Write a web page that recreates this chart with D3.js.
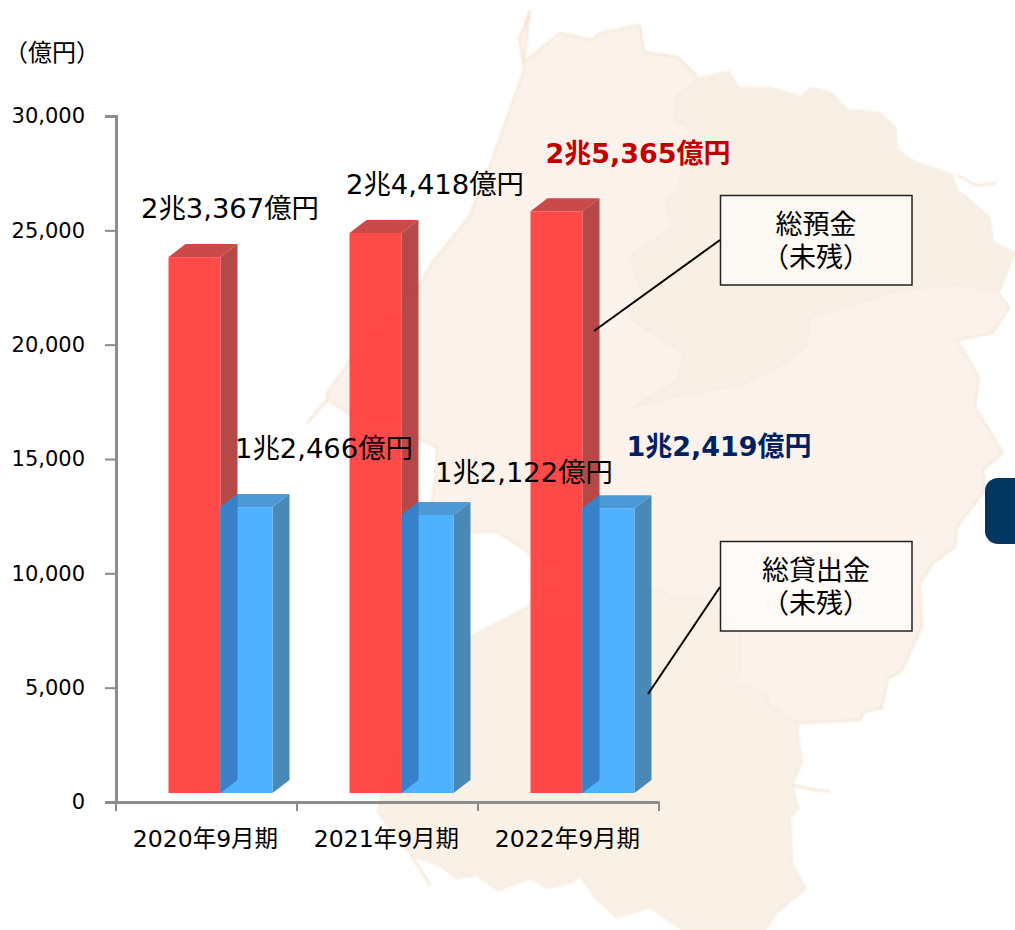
<!DOCTYPE html>
<html><head><meta charset="utf-8">
<script src="https://cdn.jsdelivr.net/npm/d3@7"></script>
<style>html,body{margin:0;padding:0;background:#fff}svg{display:block}
text{font-family:"DejaVu Sans","Noto Sans CJK JP",sans-serif;fill:#000}</style></head><body>
<svg id="c" width="1015" height="930"><defs><filter id="soft" x="-5%" y="-5%" width="110%" height="110%"><feGaussianBlur stdDeviation="0.8"/></filter></defs></svg>
<script>
const periods=["2020年9月期","2021年9月期","2022年9月期"];
const deposits=[23367,24418,25365];
const loans=[12466,12122,12419];
const depositLabels=["2兆3,367億円","2兆4,418億円","2兆5,365億円"];
const loanLabels=["1兆2,466億円","1兆2,122億円","1兆2,419億円"];
const yTicks=[0,5000,10000,15000,20000,25000,30000];
// decorative background map
const mapOutline=[[530,10],[523,30],[519,37],[523,63],[560,33],[592,40],[601,33],[640,25],[644,52],[678,57],[699,78],[729,72],[738,88],[770,88],[802,97],[811,88],[831,93],[847,110],[879,113],[895,127],[897,150],[916,163],[952,175],[957,190],[989,217],[993,243],[1015,253],[998,293],[1009,307],[993,333],[957,340],[979,377],[975,407],[1003,453],[983,470],[985,490],[957,527],[955,547],[933,563],[920,583],[922,627],[901,672],[888,678],[882,708],[864,712],[860,720],[798,723],[798,738],[802,762],[792,785],[798,808],[790,818],[792,865],[806,888],[777,912],[765,930],[683,930],[650,907],[617,917],[596,898],[580,875],[572,882],[547,888],[530,878],[498,890],[477,875],[456,878],[440,865],[411,855],[378,812],[386,772],[399,738],[421,718],[411,698],[419,645],[432,630],[471,637],[528,607],[549,575],[528,552],[498,532],[473,532],[432,502],[436,475],[437,447],[414,437],[359,420],[327,400],[327,393],[346,367],[368,323],[419,287],[432,263],[469,217],[491,163],[523,73]];
const mapCentral=[[699,78],[729,72],[738,88],[770,88],[802,97],[811,88],[831,93],[847,110],[879,113],[895,127],[897,150],[916,163],[952,175],[957,190],[989,217],[993,243],[1015,253],[998,293],[960,285],[902,290],[811,317],[806,347],[779,367],[740,385],[674,397],[633,407],[678,380],[683,353],[628,317],[642,290],[628,257],[672,227],[665,203],[678,190],[690,127],[674,120],[676,97]];
const mapSouth=[[419,645],[432,630],[471,637],[528,607],[580,620],[617,605],[654,588],[662,588],[670,598],[707,597],[740,635],[740,672],[734,682],[767,695],[769,705],[798,723],[798,738],[802,762],[792,785],[798,808],[790,818],[792,865],[806,888],[777,912],[765,930],[683,930],[650,907],[617,917],[596,898],[580,875],[572,882],[547,888],[530,878],[498,890],[477,875],[456,878],[440,865],[411,855],[378,812],[386,772],[399,738],[421,718],[411,698]];
const mapSpurs=[[[523,30],[530,10]],[[327,400],[307,423]],[[957,175],[975,185],[997,183]],[[411,855],[430,885]],[[792,785],[815,790],[830,791]]];

const svg=d3.select("#c");
const line=d3.line().curve(d3.curveLinearClosed);
const open=d3.line();
const map=svg.append("g").attr("filter","url(#soft)");
map.append("path").attr("d",line(mapOutline)).attr("fill","#fbf3eb").attr("stroke","#f4e6d6").attr("stroke-width",2);
map.append("path").attr("d",line(mapCentral)).attr("fill","#f8efe5").attr("stroke","#f6ebdf").attr("stroke-width",1.5);
map.append("path").attr("d",line(mapSouth)).attr("fill","#f9f0e6").attr("stroke","#f6ebdf").attr("stroke-width",1.5);
map.selectAll("path.s").data(mapSpurs).join("path").attr("class","s").attr("d",d=>open(d)).attr("fill","none").attr("stroke","#f2e2d0").attr("stroke-width",2);
svg.append("rect").attr("x",985).attr("y",478).attr("width",50).attr("height",66).attr("rx",13).attr("fill","#03375f");

const y=d3.scaleLinear().domain([0,30000]).range([802,116]);
const yBar=d3.scaleLinear().domain([0,30000]).range([793,105]);
const x=d3.scaleBand().domain(periods).range([116,659]);
const xs=d3.scaleBand().domain(["d","l"]).range([52,156]);
const dx=17,dy=13,w=xs.bandwidth();

function box(g,x0,v,c){
  const t=yBar(v),b=yBar(0),x1=x0+w;
  g.append("polygon").attr("points",[[x1,t],[x1+dx,t-dy],[x1+dx,b-dy],[x1,b]].join(" ")).attr("fill",c.side).attr("opacity",c.o);
  g.append("polygon").attr("points",[[x0,t],[x0+dx,t-dy],[x1+dx,t-dy],[x1,t]].join(" ")).attr("fill",c.top).attr("opacity",c.o);
  g.append("rect").attr("x",x0).attr("y",t).attr("width",w).attr("height",b-t).attr("fill",c.front).attr("opacity",c.o);
}
const red={front:"#ff3c3c",side:"#b03a3a",top:"#c63c3c",o:.93};
const blue={front:"#44aeff",side:"#3f83b4",top:"#4394d4",o:.95};
const bars=svg.append("g");
periods.forEach((p,i)=>{
  const g=bars.append("g");
  box(g,x(p)+xs("d")+.5,deposits[i],red);
  const bx=x(p)+xs("l")+.5,t=yBar(loans[i]),b=yBar(0);
  box(g,bx,loans[i],blue);
  g.append("polygon").attr("points",[[bx,t],[bx+dx,t-dy],[bx+dx,b-dy],[bx,b]].join(" ")).attr("fill","#3880c8");
});

const yAxis=svg.append("g").attr("transform","translate(116,0)")
  .call(d3.axisLeft(y).tickValues(yTicks).tickSize(11).tickPadding(20).tickFormat(d3.format(",")));
const xAxis=svg.append("g").attr("transform","translate(0,802)")
  .call(d3.axisBottom(x).tickSize(0).tickPadding(0).tickFormat(""));
xAxis.selectAll(".tickmark").data(x.domain().map(d=>x(d)).concat(659)).join("line").attr("class","tickmark")
  .attr("x1",d=>d).attr("x2",d=>d).attr("y1",0).attr("y2",9).attr("stroke","#8c8c8c").attr("stroke-width",2);
svg.selectAll(".domain").attr("stroke","#8c8c8c").attr("stroke-width",3);
yAxis.selectAll(".tick line").attr("x1",0).attr("x2",-11).attr("stroke","#8c8c8c").attr("stroke-width",2);
yAxis.selectAll("text").attr("font-size",21).attr("fill","#000").style("font-family",'"DejaVu Sans","Noto Sans CJK JP",sans-serif');
xAxis.selectAll(".plab").data(periods).join("text").attr("class","plab")
  .attr("x",d=>x(d)+x.bandwidth()/2-1).attr("y",45).attr("text-anchor","middle").attr("font-size",23.5).text(d=>d);

svg.append("text").attr("x",52).attr("y",61).attr("text-anchor","middle").attr("font-size",24).text("（億円）");

const labelPos=[[230,218],[435,194],[638,163]];
const loanPos=[[324,458],[524,482],[638,456]];
loanPos[2][0]=719;
depositLabels.forEach((t,i)=>{
  const last=i===2;
  svg.append("text").attr("x",labelPos[i][0]).attr("y",labelPos[i][1]).attr("text-anchor","middle")
   .attr("font-size",last?27:27.4).attr("font-weight",last?700:400).style("fill",last?"#c00000":"#000").text(t);
});
loanLabels.forEach((t,i)=>{
  const last=i===2;
  svg.append("text").attr("x",loanPos[i][0]).attr("y",loanPos[i][1]).attr("text-anchor","middle")
   .attr("font-size",last?27:27.4).attr("font-weight",last?700:400).style("fill",last?"#002060":"#000").text(t);
});

const callouts=[{label:["総預金","（未残）"],y:195.5,from:[720,240],to:[594,331]},
                {label:["総貸出金","（未残）"],y:541.5,from:[720,587],to:[648,694]}];
callouts.forEach(c=>{
  svg.append("rect").attr("x",720.5).attr("y",c.y).attr("width",191.5).attr("height",89.5)
    .attr("fill","#fff").attr("fill-opacity",.6).attr("stroke","#222").attr("stroke-width",1.5);
  svg.append("path").attr("d",open([c.from,c.to])).attr("stroke","#000").attr("stroke-width",2).attr("fill","none");
  c.label.forEach((t,i)=>svg.append("text").attr("x",816).attr("y",c.y+38+i*33).attr("text-anchor","middle").attr("font-size",27).text(t));
});
</script></body></html>
